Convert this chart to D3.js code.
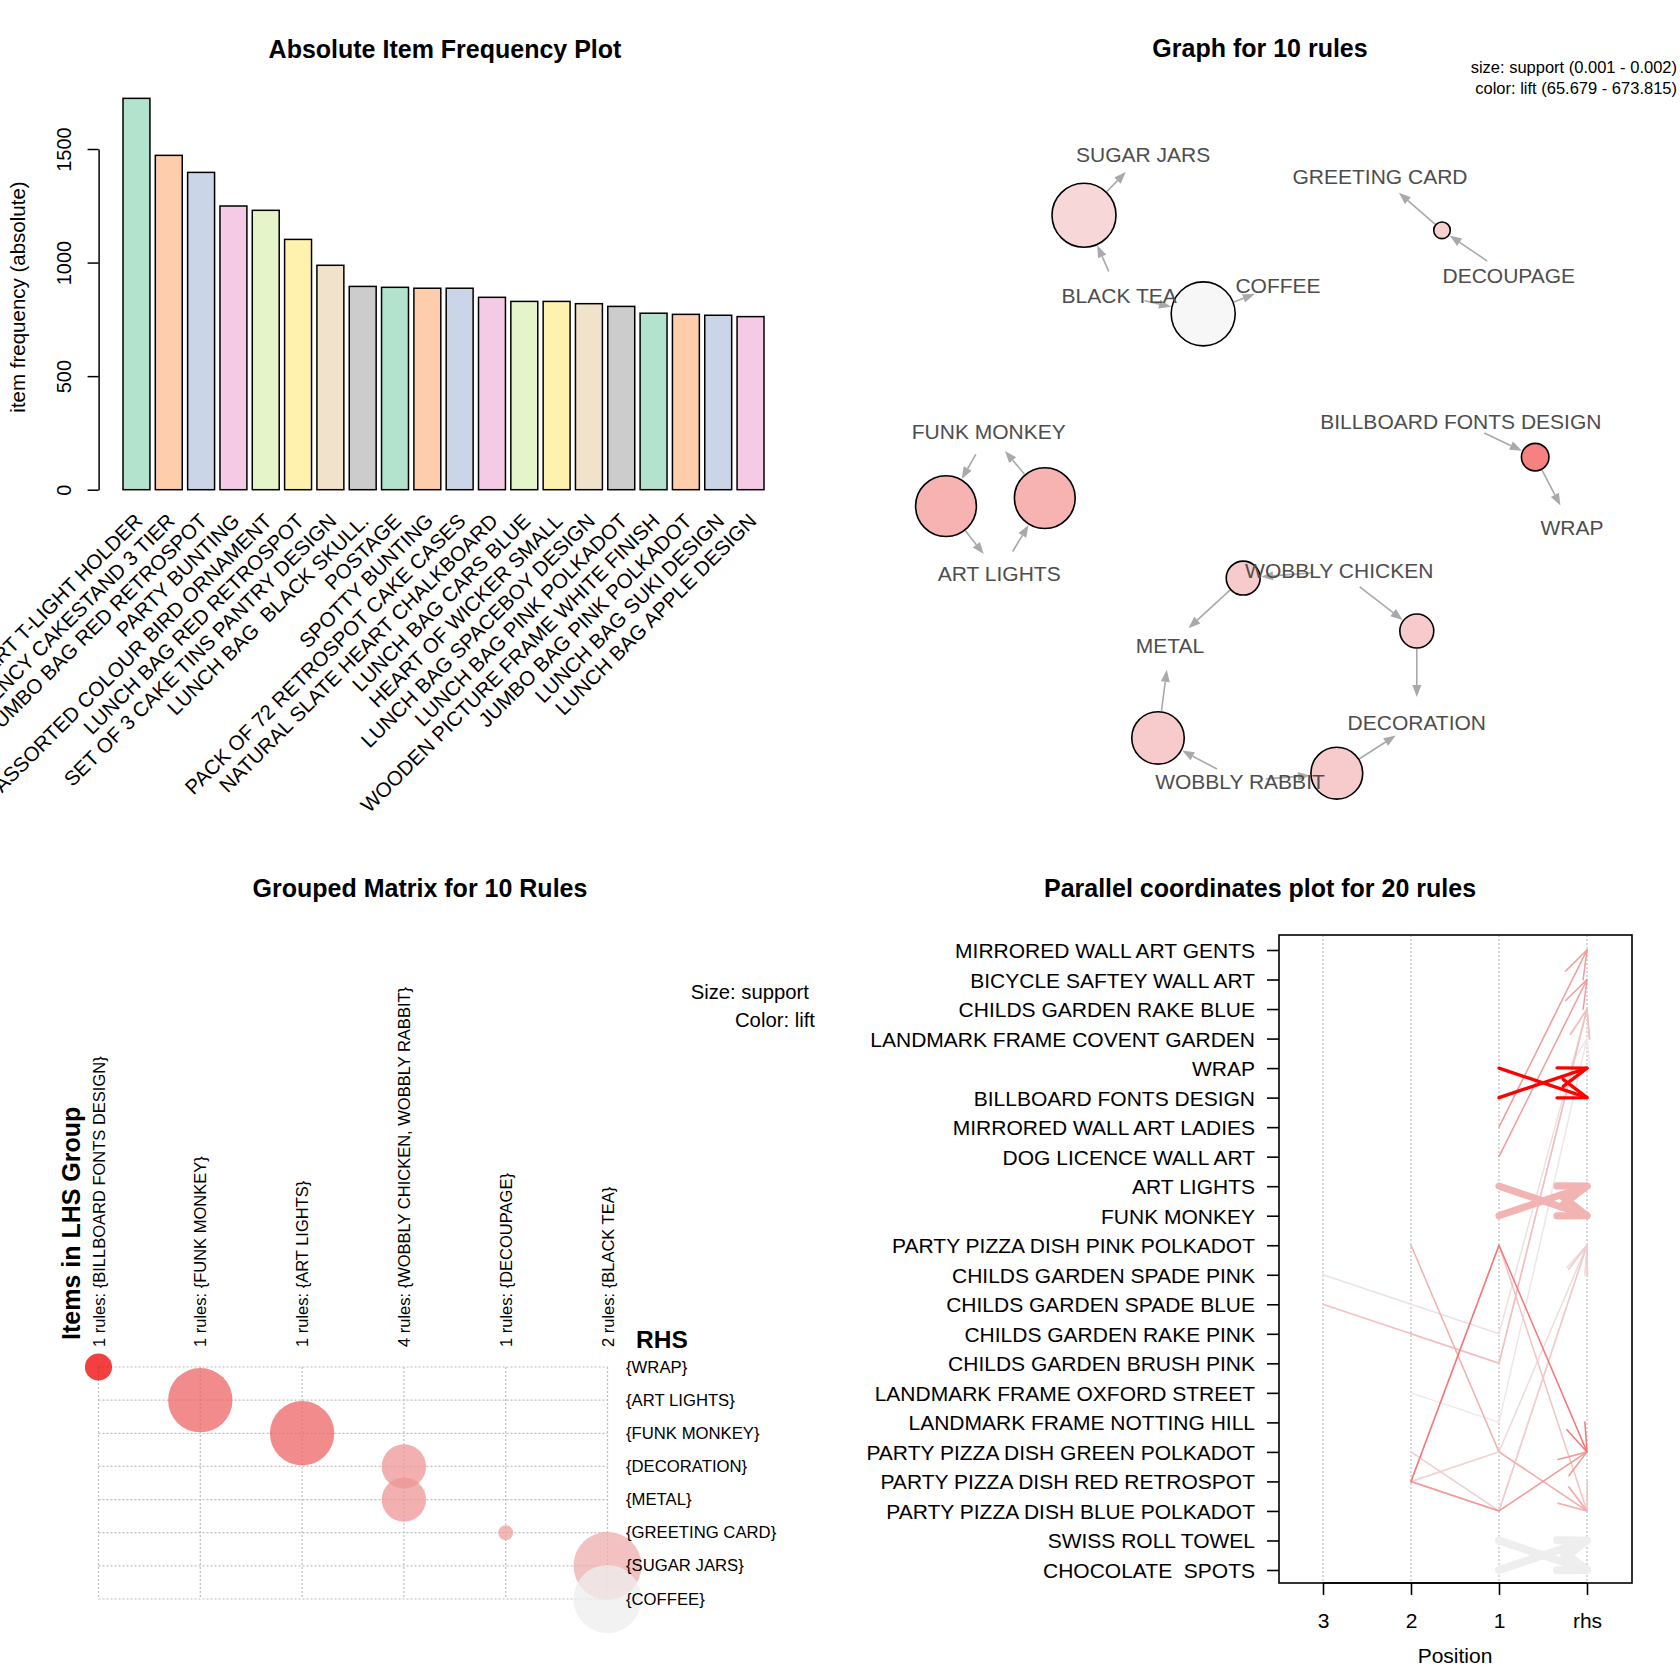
<!DOCTYPE html>
<html>
<head>
<meta charset="utf-8">
<script src="https://cdn.jsdelivr.net/npm/d3@7"></script>
<style>
  body { margin: 0; background: #fff; }
  text { font-family: "Liberation Sans", Arial, Helvetica, sans-serif; white-space: pre; }
</style>
</head>
<body>
<svg id="chart" width="1680" height="1680"></svg>
<script>
// ---------- data: item frequency ----------
const itemNames = [
  "WHITE HANGING HEART T-LIGHT HOLDER", "REGENCY CAKESTAND 3 TIER", "JUMBO BAG RED RETROSPOT",
  "PARTY BUNTING", "ASSORTED COLOUR BIRD ORNAMENT", "LUNCH BAG RED RETROSPOT",
  "SET OF 3 CAKE TINS PANTRY DESIGN", "LUNCH BAG  BLACK SKULL.", "POSTAGE", "SPOTTY BUNTING",
  "PACK OF 72 RETROSPOT CAKE CASES", "NATURAL SLATE HEART CHALKBOARD", "LUNCH BAG CARS BLUE",
  "HEART OF WICKER SMALL", "LUNCH BAG SPACEBOY DESIGN", "LUNCH BAG PINK POLKADOT",
  "WOODEN PICTURE FRAME WHITE FINISH", "JUMBO BAG PINK POLKADOT", "LUNCH BAG SUKI DESIGN",
  "LUNCH BAG APPLE DESIGN"
];
const itemCounts = [1723, 1472, 1397, 1249, 1230, 1102, 988, 895, 891, 887,
                    887, 847, 829, 829, 819, 807, 777, 772, 768, 762];
const freqTicks = [0, 500, 1000, 1500];
const pastel2 = ["#B3E2CD", "#FDCDAC", "#CBD5E8", "#F4CAE4", "#E6F5C9", "#FFF2AE", "#F1E2CC", "#CCCCCC"];

// ---------- data: graph (layout coordinates in [0,1]) ----------
const graphItems = ["SUGAR JARS", "GREETING CARD", "BLACK TEA", "COFFEE", "DECOUPAGE", "FUNK MONKEY",
  "BILLBOARD FONTS DESIGN", "WRAP", "ART LIGHTS", "WOBBLY CHICKEN", "METAL", "DECORATION", "WOBBLY RABBIT"];
const graphItemX = [0.329, 0.625, 0.299, 0.4975, 0.786, 0.136, 0.726, 0.865, 0.149, 0.574, 0.3625, 0.671, 0.45];
const graphItemY = [0.075, 0.106, 0.271, 0.257, 0.244, 0.461, 0.447, 0.594, 0.658, 0.654, 0.757, 0.864, 0.946];

const ruleLhs = ["BLACK TEA", "BLACK TEA", "DECOUPAGE", "FUNK MONKEY", "ART LIGHTS",
  "BILLBOARD FONTS DESIGN", "WOBBLY CHICKEN", "WOBBLY CHICKEN", "WOBBLY RABBIT", "WOBBLY RABBIT"];
const ruleRhs = ["SUGAR JARS", "COFFEE", "GREETING CARD", "ART LIGHTS", "FUNK MONKEY",
  "WRAP", "METAL", "DECORATION", "DECORATION", "METAL"];
const ruleSupport = [0.00175, 0.00175, 0.00101, 0.0017, 0.0017, 0.00118, 0.00128, 0.00128, 0.00156, 0.00157];
const ruleLift = [230, 65.679, 266, 416, 416, 673.815, 291, 291, 291, 291];
const ruleX = [0.255, 0.404, 0.7025, 0.0825, 0.206, 0.819, 0.454, 0.671, 0.571, 0.3475];
const ruleY = [0.160, 0.297, 0.181, 0.564, 0.553, 0.496, 0.664, 0.7375, 0.935, 0.886];

// ---------- data: grouped matrix ----------
const lhsGroups = ["1 rules: {BILLBOARD FONTS DESIGN}", "1 rules: {FUNK MONKEY}", "1 rules: {ART LIGHTS}",
  "4 rules: {WOBBLY CHICKEN, WOBBLY RABBIT}", "1 rules: {DECOUPAGE}", "2 rules: {BLACK TEA}"];
const rhsItems = ["{WRAP}", "{ART LIGHTS}", "{FUNK MONKEY}", "{DECORATION}", "{METAL}",
  "{GREETING CARD}", "{SUGAR JARS}", "{COFFEE}"];
const cellGroup = [0, 1, 2, 3, 3, 4, 5, 5];
const cellRhs = [0, 1, 2, 3, 4, 5, 6, 7];
const cellSupport = [0.00118, 0.0017, 0.0017, 0.00142, 0.00142, 0.00101, 0.00175, 0.00175];
const cellLift = [673.815, 416, 416, 291, 291, 266, 230, 65.679];

// ---------- data: parallel coordinates ----------
const parItems = ["MIRRORED WALL ART GENTS", "BICYCLE SAFTEY WALL ART", "CHILDS GARDEN RAKE BLUE",
  "LANDMARK FRAME COVENT GARDEN", "WRAP", "BILLBOARD FONTS DESIGN", "MIRRORED WALL ART LADIES",
  "DOG LICENCE WALL ART", "ART LIGHTS", "FUNK MONKEY", "PARTY PIZZA DISH PINK POLKADOT",
  "CHILDS GARDEN SPADE PINK", "CHILDS GARDEN SPADE BLUE", "CHILDS GARDEN RAKE PINK",
  "CHILDS GARDEN BRUSH PINK", "LANDMARK FRAME OXFORD STREET", "LANDMARK FRAME NOTTING HILL",
  "PARTY PIZZA DISH GREEN POLKADOT", "PARTY PIZZA DISH RED RETROSPOT", "PARTY PIZZA DISH BLUE POLKADOT",
  "SWISS ROLL TOWEL", "CHOCOLATE  SPOTS"];
const positionLabels = ["3", "2", "1", "rhs"];
const PINK = "PARTY PIZZA DISH PINK POLKADOT", GREEN = "PARTY PIZZA DISH GREEN POLKADOT",
      RED = "PARTY PIZZA DISH RED RETROSPOT", BLUE = "PARTY PIZZA DISH BLUE POLKADOT";
const parLhs = [
  ["BILLBOARD FONTS DESIGN"], ["WRAP"], ["ART LIGHTS"], ["FUNK MONKEY"],
  ["SWISS ROLL TOWEL"], ["CHOCOLATE  SPOTS"], ["MIRRORED WALL ART LADIES"], ["DOG LICENCE WALL ART"],
  ["CHILDS GARDEN SPADE PINK", "CHILDS GARDEN SPADE BLUE", "CHILDS GARDEN RAKE PINK"],
  ["CHILDS GARDEN SPADE BLUE", "CHILDS GARDEN RAKE PINK", "CHILDS GARDEN BRUSH PINK"],
  ["CHILDS GARDEN RAKE PINK", "CHILDS GARDEN BRUSH PINK"],
  ["LANDMARK FRAME OXFORD STREET", "LANDMARK FRAME NOTTING HILL"],
  [PINK, GREEN], [RED, PINK], [RED, PINK], [RED, BLUE], [RED, GREEN], [GREEN, BLUE], [RED, GREEN], [RED, BLUE]
];
const parRhs = ["WRAP", "BILLBOARD FONTS DESIGN", "FUNK MONKEY", "ART LIGHTS",
  "CHOCOLATE  SPOTS", "SWISS ROLL TOWEL", "MIRRORED WALL ART GENTS", "BICYCLE SAFTEY WALL ART",
  "CHILDS GARDEN RAKE BLUE", "CHILDS GARDEN RAKE BLUE", "CHILDS GARDEN RAKE BLUE",
  "LANDMARK FRAME COVENT GARDEN", BLUE, GREEN, BLUE, GREEN, PINK, PINK, BLUE, PINK];
const parLift = [673.8, 673.8, 190, 190, 30, 30, 262, 258, 68, 152, 120, 49,
                 197, 352, 146, 268, 82, 120, 100, 110];
const parSupport = [0.00122, 0.00122, 0.0017, 0.0017, 0.0018, 0.0018, 0.001, 0.001, 0.001, 0.001,
                    0.001, 0.001, 0.001, 0.001, 0.001, 0.001, 0.001, 0.001, 0.001, 0.001];

const svg = d3.select("#chart");
svg.append("rect").attr("width", 1680).attr("height", 1680).attr("fill", "#fff");

function title(x, y, t) {
  svg.append("text").attr("x", x).attr("y", y).attr("text-anchor", "middle")
    .attr("font-weight", "bold").attr("font-size", 25).text(t);
}

// ================= Absolute Item Frequency Plot =================
title(445, 58, "Absolute Item Frequency Plot");

const xBar = d3.scaleBand().domain(itemNames).range([123, 764]).paddingInner(1 / 6).paddingOuter(0);
const yBar = d3.scaleLinear().domain([0, 1500]).range([489.7, 149]);

svg.append("g").selectAll("rect").data(itemNames).join("rect")
  .attr("x", d => xBar(d))
  .attr("y", (d, i) => yBar(itemCounts[i]))
  .attr("width", xBar.bandwidth())
  .attr("height", (d, i) => yBar(0) - yBar(itemCounts[i]))
  .attr("fill", (d, i) => pastel2[i % pastel2.length])
  .attr("stroke", "#000").attr("stroke-width", 1.5);

const yAxis = svg.append("g").attr("transform", "translate(98.6,0)")
  .call(d3.axisLeft(yBar).tickValues(freqTicks).tickSize(11).tickSizeOuter(0).tickFormat(d3.format("d")));
yAxis.selectAll("path, line").attr("stroke", "#000").attr("stroke-width", 1.5);
yAxis.selectAll("text")
  .attr("x", 0).attr("y", -34.6).attr("dy", null)
  .attr("text-anchor", "middle").attr("dominant-baseline", "central")
  .attr("transform", "rotate(-90)")
  .attr("font-size", 20).attr("fill", "#000")
  .style("font-family", '"Liberation Sans", Arial, sans-serif');

svg.append("text").attr("transform", "translate(17,297) rotate(-90)")
  .attr("text-anchor", "middle").attr("dominant-baseline", "central")
  .attr("font-size", 20.5).text("item frequency (absolute)");

svg.append("g").selectAll("text").data(itemNames).join("text")
  .attr("transform", d => `translate(${xBar(d) + xBar.bandwidth() / 2 + 2},517) rotate(-45)`)
  .attr("text-anchor", "end").attr("dominant-baseline", "central")
  .attr("font-size", 20.5).text(d => d);

// ================= Graph for 10 rules =================
title(1260, 57, "Graph for 10 rules");
svg.append("text").attr("x", 1677).attr("y", 73).attr("text-anchor", "end")
  .attr("font-size", 16.5).text("size: support (0.001 - 0.002)");
svg.append("text").attr("x", 1677).attr("y", 94).attr("text-anchor", "end")
  .attr("font-size", 16.5).text("color: lift (65.679 - 673.815)");

const gx = d3.scaleLinear().domain([0, 1]).range([880, 1680]);
const gy = d3.scaleLinear().domain([0, 1]).range([100, 820]);
const nodeR = d3.scaleLinear().domain([0.001, 0.002]).range([8, 40]);
const liftColor = d3.scaleLinear().domain([65.679, 673.815]).range(["#EEEEEE", "#EE0000"]);

function itemPos(name) {
  const k = graphItems.indexOf(name);
  return [gx(graphItemX[k]), gy(graphItemY[k])];
}

const edgeLayer = svg.append("g");
function edge(p0, p1, clip0, clip1) {
  const dx = p1[0] - p0[0], dy = p1[1] - p0[1];
  const len = Math.hypot(dx, dy), ux = dx / len, uy = dy / len;
  const s = [p0[0] + ux * clip0, p0[1] + uy * clip0];
  const e = [p1[0] - ux * clip1, p1[1] - uy * clip1];
  const headL = 12, headW = 4.5;
  const b = [e[0] - ux * headL, e[1] - uy * headL];
  edgeLayer.append("line").attr("x1", s[0]).attr("y1", s[1]).attr("x2", b[0]).attr("y2", b[1])
    .attr("stroke", "#A9A9A9").attr("stroke-width", 1.6);
  edgeLayer.append("path")
    .attr("d", `M${e[0]},${e[1]}L${b[0] - uy * headW},${b[1] + ux * headW}L${b[0] + uy * headW},${b[1] - ux * headW}Z`)
    .attr("fill", "#A9A9A9");
}

ruleLhs.forEach((lhs, i) => {
  const c = [gx(ruleX[i]), gy(ruleY[i])];
  const r = nodeR(ruleSupport[i]);
  edge(itemPos(lhs), c, 26, r + 1);
  edge(c, itemPos(ruleRhs[i]), r + 1, 25);
});

svg.append("g").selectAll("circle").data(ruleLhs).join("circle")
  .attr("cx", (d, i) => gx(ruleX[i])).attr("cy", (d, i) => gy(ruleY[i]))
  .attr("r", (d, i) => nodeR(ruleSupport[i]))
  .attr("fill", (d, i) => d3.interpolateRgb("#FFFFFF", liftColor(ruleLift[i]))(0.5))
  .attr("stroke", "#000").attr("stroke-width", 1.6);

svg.append("g").selectAll("text").data(graphItems).join("text")
  .attr("x", (d, i) => gx(graphItemX[i])).attr("y", (d, i) => gy(graphItemY[i]))
  .attr("text-anchor", "middle").attr("dominant-baseline", "central")
  .attr("font-size", 21).attr("fill", "#4D4D4D").text(d => d);

// ================= Grouped Matrix for 10 Rules =================
title(420, 897, "Grouped Matrix for 10 Rules");

const mx = d3.scalePoint().domain(lhsGroups).range([98.5, 607.5]);
const my = d3.scalePoint().domain(rhsItems).range([1367, 1599]);
const cellR = d3.scaleLinear().domain(d3.extent(cellSupport)).range([7.5, 34]);

const grid = svg.append("g").attr("stroke", "#BEBEBE").attr("stroke-width", 1.2)
  .attr("stroke-dasharray", "2,2");
grid.selectAll(".v").data(lhsGroups).join("line")
  .attr("x1", d => mx(d)).attr("x2", d => mx(d)).attr("y1", my.range()[0]).attr("y2", my.range()[1]);
grid.selectAll(".h").data(rhsItems).join("line")
  .attr("y1", d => my(d)).attr("y2", d => my(d)).attr("x1", mx.range()[0]).attr("x2", mx.range()[1]);

svg.append("g").selectAll("circle").data(cellGroup).join("circle")
  .attr("cx", d => mx(lhsGroups[d])).attr("cy", (d, i) => my(rhsItems[cellRhs[i]]))
  .attr("r", (d, i) => cellR(cellSupport[i]))
  .attr("fill", (d, i) => liftColor(cellLift[i])).attr("fill-opacity", 0.75);

svg.append("g").selectAll("text").data(lhsGroups).join("text")
  .attr("transform", d => `translate(${mx(d)},1347) rotate(-90)`)
  .attr("dominant-baseline", "central").attr("font-size", 16.5).text(d => d);

svg.append("g").selectAll("text").data(rhsItems).join("text")
  .attr("x", 626).attr("y", d => my(d)).attr("dominant-baseline", "central")
  .attr("font-size", 16.7).text(d => d);

svg.append("text").attr("transform", "translate(71,1340) rotate(-90)")
  .attr("dominant-baseline", "central").attr("font-weight", "bold").attr("font-size", 25)
  .text("Items in LHS Group");
svg.append("text").attr("x", 636).attr("y", 1339).attr("dominant-baseline", "central")
  .attr("font-weight", "bold").attr("font-size", 24.5).text("RHS");
svg.append("text").attr("x", 809).attr("y", 999).attr("text-anchor", "end")
  .attr("font-size", 20.3).text("Size: support");
svg.append("text").attr("x", 815).attr("y", 1027).attr("text-anchor", "end")
  .attr("font-size", 20.3).text("Color: lift");

// ================= Parallel coordinates plot for 20 rules =================
title(1260, 897, "Parallel coordinates plot for 20 rules");

const px = d3.scaleLinear().domain([1, 4]).range([1323, 1587]);
const py = d3.scalePoint().domain(parItems).range([950, 1570]);
const parColor = d3.scaleLinear().domain(d3.extent(parLift)).range(["#EEEEEE", "#FF0000"]);
const parWidth = d3.scaleLinear().domain([0.001, 0.0018]).range([1.5, 8]);
const box = { x0: 1279, x1: 1632, y0: 935, y1: 1583 };

svg.append("g").selectAll("line").data(positionLabels).join("line")
  .attr("x1", (d, i) => px(i + 1)).attr("x2", (d, i) => px(i + 1))
  .attr("y1", box.y0).attr("y2", box.y1)
  .attr("stroke", "#BEBEBE").attr("stroke-width", 1.2).attr("stroke-dasharray", "2,2");

const order = d3.range(parLhs.length).sort((a, b) => parLift[a] - parLift[b]);
const lineLayer = svg.append("g").attr("fill", "none").attr("stroke-linecap", "round")
  .attr("stroke-linejoin", "round");
order.forEach(i => {
  const lhs = parLhs[i];
  const pts = lhs.map((it, k) => [px(4 - lhs.length + k), py(it)]);
  pts.push([px(4), py(parRhs[i])]);
  const col = parColor(parLift[i]), w = parWidth(parSupport[i]);
  lineLayer.append("path").attr("d", d3.line()(pts)).attr("stroke", col).attr("stroke-width", w);
  const a = pts[pts.length - 2], t = pts[pts.length - 1];
  const ang = Math.atan2(t[1] - a[1], t[0] - a[0]), L = 30, spread = 19 * Math.PI / 180;
  const b1 = [t[0] - L * Math.cos(ang - spread), t[1] - L * Math.sin(ang - spread)];
  const b2 = [t[0] - L * Math.cos(ang + spread), t[1] - L * Math.sin(ang + spread)];
  lineLayer.append("path").attr("d", d3.line()([b1, t, b2])).attr("stroke", col).attr("stroke-width", w);
});

svg.append("rect").attr("x", box.x0).attr("y", box.y0)
  .attr("width", box.x1 - box.x0).attr("height", box.y1 - box.y0)
  .attr("fill", "none").attr("stroke", "#000").attr("stroke-width", 1.6);

const yPar = svg.append("g").attr("transform", `translate(${box.x0},0)`)
  .call(d3.axisLeft(py).tickSize(12).tickPadding(12).tickSizeOuter(0));
yPar.select(".domain").remove();
yPar.selectAll("line").attr("stroke", "#000").attr("stroke-width", 1.6);
yPar.selectAll("text").attr("dy", null).attr("dominant-baseline", "central")
  .attr("font-size", 21).attr("fill", "#000")
  .style("font-family", '"Liberation Sans", Arial, sans-serif').style("white-space", "pre");

const xPar = svg.append("g").attr("transform", `translate(0,${box.y1})`)
  .call(d3.axisBottom(px).tickValues([1, 2, 3, 4]).tickFormat((d, i) => positionLabels[i])
    .tickSize(12).tickPadding(18).tickSizeOuter(0));
xPar.select(".domain").attr("d", `M${px(1)},0H${px(4)}`).attr("stroke", "#000").attr("stroke-width", 1.6);
xPar.selectAll("line").attr("stroke", "#000").attr("stroke-width", 1.6);
xPar.selectAll("text").attr("font-size", 21).attr("fill", "#000")
  .style("font-family", '"Liberation Sans", Arial, sans-serif');

svg.append("text").attr("x", 1455).attr("y", 1663).attr("text-anchor", "middle")
  .attr("font-size", 21).text("Position");
</script>
</body>
</html>
